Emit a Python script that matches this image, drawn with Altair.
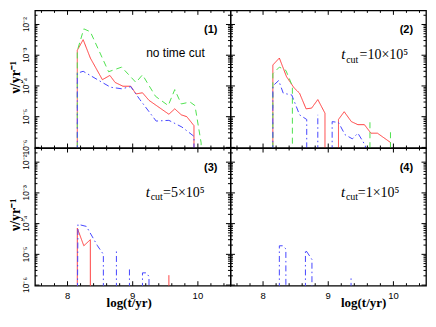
import altair as alt
import pandas as pd

# ---------------- data (x = log(t/yr), y = rate nu in yr^-1) ----------------
SERIES = ["red", "green", "blue"]
COLORS = ["#ff3c3c", "#4fe24f", "#4646ff"]
DASHES = [[1, 0], [6, 4], [6, 3, 1.5, 3]]

F = 1e-7  # below the plotted range: curve drops to the bottom edge

# Panel (1): no time cut
P1_RED_X = [8.15, 8.15, 8.24, 8.35, 8.535, 8.65, 8.73, 8.85, 8.97, 9.05, 9.15, 9.25, 9.555, 9.645, 9.745, 9.83, 9.94, 9.94]
P1_RED_Y = [F, 1.45e-3, 3.2e-3, 8.1e-4, 1.6e-4, 2.2e-4, 1.3e-4, 9.8e-5, 9.8e-5, 5.5e-5, 6.0e-5, 3.4e-5, 1.2e-5, 1.8e-5, 1.15e-5, 1.0e-5, 5.1e-6, F]
P1_GREEN_X = [8.15, 8.15, 8.25, 8.35, 8.63, 8.83, 9.05, 9.15, 9.35, 9.545, 9.645, 9.745, 9.88, 9.955, 10.05, 10.05]
P1_GREEN_Y = [F, 1.4e-3, 7.2e-3, 5.8e-3, 2.9e-4, 4.1e-4, 1.3e-4, 2.3e-4, 4.6e-5, 2.3e-5, 7.6e-5, 2.6e-5, 3.0e-5, 2.3e-5, 1.4e-6, F]
P1_BLUE_X = [8.15, 8.15, 8.24, 8.46, 8.66, 8.83, 8.97, 9.11, 9.36, 9.555, 9.755, 9.94, 9.94]
P1_BLUE_Y = [F, 2.6e-4, 3.0e-4, 1.6e-4, 9.1e-5, 8.1e-5, 9.5e-5, 3.6e-5, 7.2e-6, 7.6e-6, 4.6e-6, 2.3e-6, F]

# Panel (2): t_cut = 10x10^5
P2_RED_X1 = [8.15, 8.15, 8.25, 8.36, 8.475, 8.56, 8.66, 8.745, 8.84, 8.95, 8.95]
P2_RED_Y1 = [F, 4.8e-4, 8.1e-4, 2.0e-4, 8.7e-5, 5.8e-5, 1.8e-5, 1.9e-5, 3.6e-5, 1.3e-5, F]
P2_RED_X2 = [9.157, 9.157, 9.245, 9.355, 9.455, 9.555, 9.655, 9.755, 9.955, 9.955]
P2_RED_Y2 = [F, 8.1e-6, 1.45e-5, 6.9e-6, 5.5e-6, 5.5e-6, 2.9e-6, 2.9e-6, 1.45e-6, F]
P2_GREEN_X1 = [8.15, 8.15, 8.25, 8.35, 8.45, 8.45]
P2_GREEN_Y1 = [F, 2.5e-4, 4.1e-4, 3.2e-4, 1.0e-4, F]
P2_GREEN_X2 = [9.64, 9.64]
P2_GREEN_Y2 = [F, 8.1e-6]
P2_GREEN_X3 = [9.955, 9.955]
P2_GREEN_Y3 = [F, 3.8e-6]
P2_BLUE_X1 = [8.15, 8.15, 8.24, 8.31, 8.44, 8.56, 8.67, 8.67]
P2_BLUE_Y1 = [F, 1.0e-4, 1.5e-4, 5.8e-5, 5.1e-5, 1.15e-5, 8.1e-6, F]
P2_BLUE_X2 = [8.84, 8.84]
P2_BLUE_Y2 = [F, 1.15e-5]
P2_BLUE_X3 = [9.06, 9.06, 9.157, 9.257, 9.37, 9.455, 9.57, 9.57]
P2_BLUE_Y3 = [F, 6.9e-6, 6.5e-6, 2.6e-6, 1.9e-6, 2.9e-6, 1.15e-6, F]

# Panel (3): t_cut = 5x10^5
P3_RED_X1 = [8.15, 8.15, 8.25, 8.35, 8.35]
P3_RED_Y1 = [F, 7.1e-5, 1.9e-5, 3.0e-5, F]
P3_RED_X2 = [9.555, 9.555]
P3_RED_Y2 = [F, 2.1e-6]
P3_BLUE_X1 = [8.15, 8.16, 8.29, 8.46, 8.55, 8.55]
P3_BLUE_Y1 = [F, 9.5e-5, 8.1e-5, 1.9e-5, 1.0e-5, F]
P3_BLUE_X2 = [8.75, 8.75]
P3_BLUE_Y2 = [F, 1.35e-5]
P3_BLUE_X3 = [8.95, 8.95]
P3_BLUE_Y3 = [F, 4.0e-6]
P3_BLUE_X4 = [9.15, 9.15, 9.21, 9.25, 9.25]
P3_BLUE_Y4 = [F, 2.5e-6, 2.5e-6, 1.9e-6, F]

# Panel (4): t_cut = 1x10^5
P4_BLUE_X1 = [8.25, 8.25, 8.30, 8.35, 8.35]
P4_BLUE_Y1 = [F, 1.9e-5, 1.9e-5, 1.5e-5, F]
P4_BLUE_X2 = [8.65, 8.65, 8.685, 8.75, 8.75]
P4_BLUE_Y2 = [F, 1.4e-5, 1.1e-5, 6.8e-6, F]
P4_BLUE_X3 = [9.35, 9.35]
P4_BLUE_Y3 = [F, 1.7e-6]

PANELS = [
    {"red": [(P1_RED_X, P1_RED_Y)], "green": [(P1_GREEN_X, P1_GREEN_Y)], "blue": [(P1_BLUE_X, P1_BLUE_Y)]},
    {"red": [(P2_RED_X1, P2_RED_Y1), (P2_RED_X2, P2_RED_Y2)],
     "green": [(P2_GREEN_X1, P2_GREEN_Y1), (P2_GREEN_X2, P2_GREEN_Y2), (P2_GREEN_X3, P2_GREEN_Y3)],
     "blue": [(P2_BLUE_X1, P2_BLUE_Y1), (P2_BLUE_X2, P2_BLUE_Y2), (P2_BLUE_X3, P2_BLUE_Y3)]},
    {"red": [(P3_RED_X1, P3_RED_Y1), (P3_RED_X2, P3_RED_Y2)],
     "blue": [(P3_BLUE_X1, P3_BLUE_Y1), (P3_BLUE_X2, P3_BLUE_Y2), (P3_BLUE_X3, P3_BLUE_Y3), (P3_BLUE_X4, P3_BLUE_Y4)]},
    {"blue": [(P4_BLUE_X1, P4_BLUE_Y1), (P4_BLUE_X2, P4_BLUE_Y2), (P4_BLUE_X3, P4_BLUE_Y3)]},
]
PANEL_TAGS = ["(1)", "(2)", "(3)", "(4)"]
CUT_VALUES = ["", "=10×10⁵", "=5×10⁵", "=1×10⁵"]

X_MAJOR = [8, 9, 10]
X_LABELS = ["8", "9", "10"]
X_MINOR = [7.6, 7.8, 8.2, 8.4, 8.6, 8.8, 9.2, 9.4, 9.6, 9.8, 10.2, 10.4]
Y_MAJOR = [1e-2, 1e-3, 1e-4, 1e-5, 1e-6]
Y_LABELS = ["10⁻²", "10⁻³", "10⁻⁴", "10⁻⁵", "10⁻⁶"]
X_TITLE = "log(t/yr)"
Y_TITLE = "ν/yr⁻¹"

# ---------------- layout (kept well inside the window so the page never scrolls) ----------------
W, H = 196, 138
XDOM = [7.5, 10.5]
YDOM = [10 ** -6.02, 10 ** -1.54]
Y_MINOR = [m * 10.0 ** e for e in range(-6, -1) for m in range(2, 10) if m * 10.0 ** e < YDOM[1]]
MAJ, MINT = 4.5, 2.5

xs = alt.Scale(domain=XDOM, nice=False, zero=False)
ys = alt.Scale(type="log", domain=YDOM, nice=False)
X = alt.X("x:Q", scale=xs, axis=None)
Y = alt.Y("y:Q", scale=ys, axis=None)
XV = alt.X("v:Q", scale=xs, axis=None)
YV = alt.Y("v:Q", scale=ys, axis=None)


def make_df(series):
    rows = []
    for name, segs in series.items():
        for k, (sx, sy) in enumerate(segs):
            for i, (x, y) in enumerate(zip(sx, sy)):
                rows.append(dict(series=name, seg=f"{name}{k}", i=i, x=x, y=y))
    return pd.DataFrame(rows)


def text(s, **kw):
    return alt.Chart(pd.DataFrame({"t": [s]})).mark_text(color="black", **kw)


def panel(idx):
    df = make_df(PANELS[idx])
    show_x = idx >= 2
    show_y = idx % 2 == 0

    lines = alt.Chart(df).mark_line(strokeWidth=1, clip=True).encode(
        x=X, y=Y,
        color=alt.Color("series:N", scale=alt.Scale(domain=SERIES, range=COLORS), legend=None),
        strokeDash=alt.StrokeDash("series:N", scale=alt.Scale(domain=SERIES, range=DASHES), legend=None),
        detail="seg:N",
        order="i:Q",
    )

    layers = [lines]
    # inward ticks on all four sides
    for vals, ln in ((X_MAJOR, MAJ), (X_MINOR, MINT)):
        for y0, y1 in ((H, H - ln), (0, ln)):
            layers.append(alt.Chart(pd.DataFrame({"v": vals})).mark_rule(color="black", strokeWidth=1).encode(
                x=XV, y=alt.value(y0), y2=alt.value(y1)))
    for vals, ln in ((Y_MAJOR, MAJ), (Y_MINOR, MINT)):
        for x0, x1 in ((0, ln), (W, W - ln)):
            layers.append(alt.Chart(pd.DataFrame({"v": vals})).mark_rule(color="black", strokeWidth=1).encode(
                y=YV, x=alt.value(x0), x2=alt.value(x1)))

    if show_x:
        layers.append(alt.Chart(pd.DataFrame({"xl": X_MAJOR, "lab": X_LABELS})).mark_text(
            align="center", baseline="top", font="Liberation Sans", fontSize=9.5, color="black"
        ).encode(x=alt.X("xl:Q", scale=xs, axis=None), y=alt.value(H + 5), text="lab:N"))
        layers.append(text(X_TITLE, align="center", baseline="alphabetic", font="Liberation Serif",
                           fontSize=13, fontWeight="bold").encode(
            x=alt.value(94.5 if idx == 2 else 133.5), y=alt.value(H + 21), text="t:N"))
    if show_y:
        layers.append(alt.Chart(pd.DataFrame({"yl": Y_MAJOR, "lab": Y_LABELS})).mark_text(
            align="center", baseline="bottom", angle=270, font="Liberation Sans", fontSize=8.5, color="black"
        ).encode(y=alt.Y("yl:Q", scale=ys, axis=None), x=alt.value(-3.5), text="lab:N"))
        layers.append(text(Y_TITLE, align="center", baseline="middle", angle=270, font="Liberation Serif",
                           fontSize=14, fontWeight="bold").encode(
            x=alt.value(-18.5), y=alt.value(67), text="t:N"))

    layers.append(text(PANEL_TAGS[idx], align="right", baseline="middle", font="Liberation Sans",
                       fontSize=11, fontWeight="bold").encode(
        x=alt.value(183), y=alt.value(20), text="t:N"))

    if idx == 0:
        layers.append(text("no time cut", align="left", baseline="middle", font="Liberation Sans",
                           fontSize=12).encode(x=alt.value(111.5), y=alt.value(43), text="t:N"))
    else:
        x0 = 111.0 if idx < 3 else 110.7
        xe = 129.4 if idx == 1 else (128.4 if idx == 2 else 127.7)
        layers.append(text("t", align="left", baseline="alphabetic", font="Liberation Serif",
                           fontSize=15, fontStyle="italic").encode(
            x=alt.value(x0), y=alt.value(49), text="t:N"))
        layers.append(text("cut", align="left", baseline="alphabetic", font="Liberation Serif",
                           fontSize=10).encode(x=alt.value(x0 + 5), y=alt.value(52.5), text="t:N"))
        layers.append(text(CUT_VALUES[idx], align="left", baseline="alphabetic", font="Liberation Serif",
                           fontSize=14).encode(x=alt.value(xe), y=alt.value(49), text="t:N"))

    return alt.layer(*layers).properties(width=W, height=H)


chart = alt.concat(*[panel(i) for i in range(4)], columns=2, spacing=0, bounds="flush").properties(
    padding=0
).configure_view(stroke="black", strokeWidth=1.3)

chart.save("out.html", embed_options={"renderer": "svg", "actions": False})
